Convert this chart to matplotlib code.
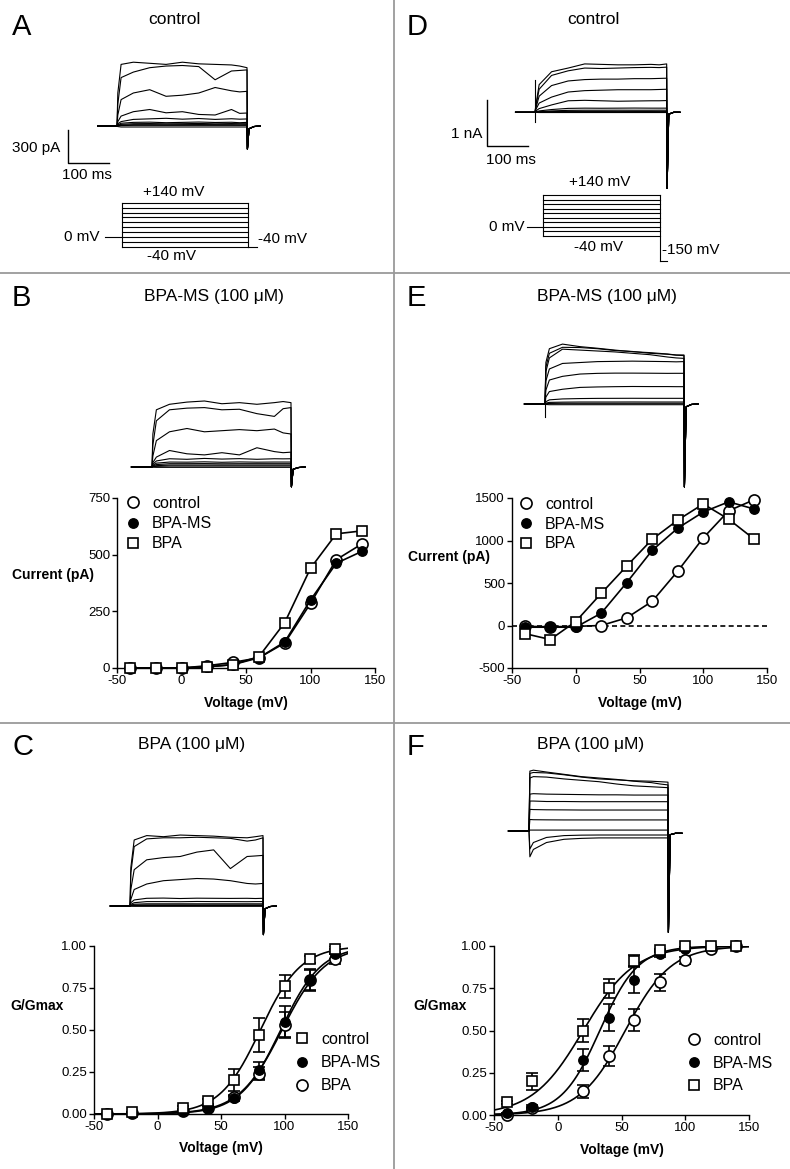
import numpy as np
import matplotlib
matplotlib.use("Agg")
import matplotlib.pyplot as plt
from matplotlib.lines import Line2D

plt.rcParams['font.family'] = ['Liberation Sans', 'DejaVu Sans']
plt.rcParams['axes.unicode_minus'] = False

W, H = 790, 1169

# ---------------- data ----------------
# I-V relations (panels B and E), test potential in mV
volts = [-40, -20, 0, 20, 40, 60, 80, 100, 120, 140]
b_control = [0, 0, 0, 10, 25, 45, 110, 285, 478, 548]
b_bpams = [0, 0, 0, 5, 15, 45, 115, 300, 462, 515]
b_bpa = [0, 0, 0, 5, 15, 50, 200, 440, 592, 605]

e_control = [-10, -15, -10, 0, 90, 285, 640, 1030, 1350, 1480]
e_bpams = [-20, -20, -20, 145, 505, 885, 1145, 1335, 1455, 1370]
e_bpa = [-95, -165, 47, 378, 700, 1015, 1240, 1430, 1250, 1015]

# G/Gmax (panels C and F), no point at 0 mV
g_volts = [-40, -20, 20, 40, 60, 80, 100, 120, 140]
c_control = [0.0, 0.01, 0.037, 0.075, 0.20, 0.47, 0.76, 0.92, 0.98]
c_control_err = [0.0, 0.0, 0.01, 0.015, 0.065, 0.10, 0.07, 0.02, 0.02]
c_bpams = [0.0, 0.005, 0.02, 0.035, 0.095, 0.26, 0.55, 0.80, 0.95]
c_bpams_err = [0.0, 0.0, 0.005, 0.01, 0.015, 0.05, 0.09, 0.065, 0.03]
c_bpa = [0.0, 0.005, 0.02, 0.035, 0.10, 0.24, 0.53, 0.80, 0.92]
c_bpa_err = [0.0, 0.0, 0.005, 0.01, 0.015, 0.04, 0.08, 0.06, 0.03]

f_control = [0.0, 0.04, 0.14, 0.35, 0.56, 0.785, 0.915, 0.98, 1.0]
f_control_err = [0.0, 0.01, 0.04, 0.06, 0.065, 0.05, 0.02, 0.01, 0.0]
f_bpams = [0.01, 0.05, 0.325, 0.575, 0.80, 0.955, 0.985, 1.0, 1.0]
f_bpams_err = [0.0, 0.01, 0.065, 0.08, 0.08, 0.02, 0.01, 0.0, 0.0]
f_bpa = [0.075, 0.20, 0.50, 0.75, 0.91, 0.975, 1.0, 1.0, 1.0]
f_bpa_err = [0.01, 0.05, 0.07, 0.055, 0.035, 0.01, 0.0, 0.0, 0.0]

# Boltzmann fit parameters (V1/2 in mV, slope k in mV)
c_fit_control = (81, 16)
c_fit_bpams = (97, 16)
c_fit_bpa = (98, 17)
f_fit_control = (53, 18)
f_fit_bpams = (33, 15)
f_fit_bpa = (20, 20)

# current traces: samples (ms) during the step, one row per test potential
trace_t = [0, 2, 10, 40, 80, 120, 160, 200, 240, 280, 300, 318]
pre_t = -47
tail_t = [319, 323, 335, 350]

a_traces = [
    [0, 300, 560, 580, 570, 560, 580, 565, 560, 555, 545, 530],
    [0, 200, 440, 490, 530, 545, 550, 540, 420, 500, 505, 510],
    [0, 100, 240, 300, 330, 270, 280, 300, 350, 320, 310, 315],
    [0, 40, 90, 130, 150, 120, 130, 105, 100, 150, 115, 118],
    [0, 20, 40, 60, 65, 70, 62, 68, 60, 66, 62, 64],
    [0, 10, 25, 33, 35, 30, 33, 36, 32, 34, 30, 33],
    [0, 5, 15, 21, 22, 20, 21, 23, 20, 22, 21, 21],
    [0, 3, 8, 12, 12, 11, 12, 13, 12, 12, 11, 12],
    [0, 2, 4, 6, 6, 6, 6, 6, 6, 6, 6, 6],
    [0, -5, -9, -9, -9, -9, -9, -9, -9, -9, -9, -9],
]
a_tail = [-210, -25, -5, 0]

b_traces = [
    [0, 300, 520, 570, 590, 600, 575, 585, 570, 585, 595, 585],
    [0, 200, 420, 520, 535, 540, 520, 525, 485, 460, 530, 540],
    [0, 100, 240, 320, 350, 320, 330, 340, 330, 345, 310, 300],
    [0, 40, 90, 150, 120, 110, 130, 110, 175, 140, 130, 135],
    [0, 25, 55, 75, 70, 78, 72, 76, 70, 75, 74, 75],
    [0, 15, 35, 45, 44, 47, 43, 46, 44, 45, 45, 45],
    [0, 10, 22, 30, 30, 31, 29, 30, 30, 30, 30, 30],
    [0, 5, 12, 18, 18, 18, 18, 18, 18, 18, 18, 18],
    [0, 3, 6, 9, 9, 9, 9, 9, 9, 9, 9, 9],
    [0, -2, -3, -3, -3, -3, -3, -3, -3, -3, -3, -3],
]
b_tail = [-180, -20, -5, 0]

c_traces = [
    [0, 350, 600, 640, 630, 645, 640, 635, 625, 620, 630, 640],
    [0, 300, 540, 610, 620, 620, 625, 620, 615, 590, 600, 620],
    [0, 150, 330, 420, 440, 450, 490, 510, 340, 450, 455, 460],
    [0, 60, 150, 200, 230, 240, 250, 245, 230, 205, 200, 205],
    [0, 30, 55, 70, 72, 68, 71, 70, 69, 70, 68, 70],
    [0, 15, 30, 40, 40, 39, 41, 40, 40, 39, 40, 40],
    [0, 8, 16, 20, 20, 20, 20, 20, 20, 20, 20, 20],
    [0, 4, 8, 10, 10, 10, 10, 10, 10, 10, 10, 10],
    [0, 2, 4, 5, 5, 5, 5, 5, 5, 5, 5, 5],
    [0, -2, -3, -3, -3, -3, -3, -3, -3, -3, -3, -3],
]
c_tail = [-260, -25, -5, 0]

d_traces = [
    [0, 150, 600, 880, 960, 1050, 1040, 1030, 1030, 1040, 1030, 1050],
    [0, 120, 500, 800, 900, 960, 950, 960, 970, 975, 970, 980],
    [0, 90, 350, 580, 680, 710, 720, 720, 730, 730, 735, 740],
    [0, 60, 200, 330, 440, 470, 480, 490, 490, 490, 495, 500],
    [0, 30, 80, 160, 250, 260, 250, 240, 245, 250, 250, 255],
    [0, 10, 30, 60, 85, 90, 88, 90, 92, 90, 90, 90],
    [0, 5, 15, 30, 42, 45, 45, 46, 45, 45, 46, 45],
    [0, 2, 8, 15, 20, 20, 20, 21, 20, 20, 21, 20],
    [0, 1, 3, 6, 8, 8, 8, 8, 8, 8, 8, 8],
    [0, -2, -5, -5, -5, -5, -5, -5, -5, -5, -5, -5],
]
d_tail = [-1650, -40, 0, 0]
d_cap = [700, -200]

e_traces = [
    [0, 900, 1200, 1300, 1245, 1210, 1170, 1135, 1115, 1085, 1064, 1064],
    [0, 800, 1100, 1230, 1225, 1200, 1160, 1140, 1100, 1080, 1060, 1050],
    [0, 700, 1000, 1190, 1170, 1150, 1130, 1100, 1070, 1020, 1000, 990],
    [0, 500, 760, 880, 900, 920, 925, 930, 925, 920, 915, 920],
    [0, 300, 520, 600, 650, 665, 670, 670, 668, 665, 666, 666],
    [0, 150, 270, 320, 360, 370, 376, 380, 378, 378, 376, 376],
    [0, 50, 90, 110, 118, 122, 123, 124, 123, 123, 123, 123],
    [0, 20, 35, 40, 43, 43, 43, 44, 43, 43, 43, 43],
    [0, 8, 12, 15, 15, 15, 15, 15, 15, 15, 15, 15],
    [0, -10, -15, -15, -15, -15, -15, -15, -15, -15, -15, -15],
]
e_tail = [-1800, -60, -10, 0]
e_cap = [0, -280]

f_traces = [
    [0, 1300, 1320, 1280, 1230, 1180, 1150, 1120, 1080, 1050, 1020, 1000],
    [0, 1250, 1270, 1260, 1220, 1170, 1130, 1110, 1090, 1080, 1070, 1060],
    [0, 1150, 1180, 1170, 1130, 1100, 1070, 1020, 980, 960, 950, 940],
    [0, 800, 810, 800, 795, 790, 785, 785, 780, 780, 780, 780],
    [0, 650, 650, 640, 640, 636, 636, 636, 636, 636, 636, 636],
    [0, 470, 465, 460, 458, 455, 455, 455, 455, 455, 455, 455],
    [0, 250, 245, 242, 240, 240, 240, 240, 240, 240, 240, 240],
    [0, 20, 20, 20, 20, 20, 20, 20, 20, 20, 20, 20],
    [0, -390, -250, -140, -100, -90, -87, -87, -87, -87, -87, -87],
    [0, -560, -400, -250, -180, -160, -150, -150, -150, -150, -150, -150],
]
f_tail = [-2200, -80, -50, -50]

# voltage protocol
step_mv = [-40, -20, 0, 20, 40, 60, 80, 100, 120, 140]
step_end = 318
hold_start = -43

fig = plt.figure(figsize=(W / 100, H / 100), dpi=100)


def px_axes(x0, y0, x1, y1):
    return fig.add_axes([x0 / W, 1 - y1 / H, (x1 - x0) / W, (y1 - y0) / H])


def trace_panel(rect, origin, ms_px, unit_px, traces, tail, cap=None):
    x0, y0, x1, y1 = rect
    ox, oy = origin
    ax = px_axes(x0, y0, x1, y1)
    ax.set_xlim((x0 - ox) * ms_px, (x1 - ox) * ms_px)
    ax.set_ylim((oy - y1) * unit_px, (oy - y0) * unit_px)
    ax.axis('off')
    tt = [pre_t] + trace_t + tail_t
    for row in traces:
        ax.plot(tt, [0] + row + tail, color='k', lw=0.8)
    if cap is not None:
        ax.plot([0, 0], cap, color='k', lw=0.8)
    return ax


def protocol_panel(rect, origin, ms_px, mv_px, tail_v, tail_end):
    x0, y0, x1, y1 = rect
    ox, oy = origin
    ax = px_axes(x0, y0, x1, y1)
    ax.set_xlim((x0 - ox) * ms_px, (x1 - ox) * ms_px)
    ax.set_ylim((oy - y1) * mv_px, (oy - y0) * mv_px)
    ax.axis('off')
    kw = dict(color='k', lw=0.8)
    for v in step_mv:
        ax.plot([0, step_end], [v, v], **kw)
    ax.plot([0, 0], [min(step_mv), max(step_mv)], **kw)
    ax.plot([step_end, step_end], [min(tail_v, min(step_mv)), max(step_mv)], **kw)
    ax.plot([hold_start, 0], [0, 0], **kw)
    ax.plot([step_end, tail_end], [tail_v, tail_v], **kw)
    return ax


def data_axes(x0, y0, x1, y1, ylim, yticks, ylabels):
    ax = px_axes(x0, y0, x1, y1)
    ax.set_xlim(-50, 150)
    ax.set_ylim(*ylim)
    for s in ['top', 'right']:
        ax.spines[s].set_visible(False)
    for s in ['left', 'bottom']:
        ax.spines[s].set_linewidth(1.0)
    ax.set_xticks([-50, 0, 50, 100, 150])
    ax.set_yticks(yticks)
    ax.set_yticklabels(ylabels)
    ax.tick_params(direction='out', length=3.5, width=1, labelsize=9.5, pad=1.5)
    ax.set_xlabel('Voltage (mV)', fontsize=10, fontweight='bold')
    ax.xaxis.label.set_va('center')
    return ax


def put_legend(ax, handles, labels, hx, hy, spacing):
    fs = 11.5
    leg = ax.legend(handles, labels, loc='upper left', frameon=False, fontsize=fs,
                    handlelength=0.8, handletextpad=0.8, borderpad=0, borderaxespad=0,
                    labelspacing=(spacing - 16 * 0.96) / 16,
                    bbox_to_anchor=((hx - 6.4) / W, 1 - (hy - 6) / H),
                    bbox_transform=fig.transFigure)
    return leg


def boltz(v, vh, k):
    return 1.0 / (1.0 + np.exp((vh - v) / k))


mk_open_c = dict(marker='o', ms=8, mfc='white', mec='k', mew=1.2)
mk_fill_c = dict(marker='o', ms=6.8, mfc='k', mec='k', mew=1.0)
mk_open_s = dict(marker='s', ms=7.8, mfc='white', mec='k', mew=1.2)

h_ctrl_c = Line2D([], [], ls='none', **mk_open_c)
h_fill = Line2D([], [], ls='none', **mk_fill_c)
h_sq = Line2D([], [], ls='none', **mk_open_s)

# ---------------- panel dividers ----------------
for y in [273, 723]:
    fig.add_artist(Line2D([0, 1], [1 - y / H, 1 - y / H], color='#9a9a9a', lw=1.3,
                          transform=fig.transFigure))
fig.add_artist(Line2D([394 / W, 394 / W], [0, 1], color='#9a9a9a', lw=1.3,
                      transform=fig.transFigure))

# ---------------- letters and titles ----------------
for letter, x, y in [('A', 12, 27), ('B', 12, 298), ('C', 12, 747),
                     ('D', 407, 27), ('E', 407, 298), ('F', 407, 747)]:
    fig.text(x / W, 1 - y / H, letter, fontsize=21, ha='left', va='center')
for txt, x, y in [('control', 174, 20), ('BPA-MS (100 \u03bcM)', 214, 297),
                  ('BPA (100 \u03bcM)', 192, 745), ('control', 593, 20),
                  ('BPA-MS (100 \u03bcM)', 607, 297), ('BPA (100 \u03bcM)', 591, 745)]:
    fig.text(x / W, 1 - y / H, txt, fontsize=12.5, ha='center', va='center')

# ---------------- A: control traces + protocol ----------------
ax = trace_panel((10, 50, 275, 185), (117, 126), 2.446, 9.09, a_traces, a_tail)
ax.plot([-120, -120, -20], [-36, -336, -336], color='k', lw=1.0)
ax.text(-139, -200, '300 pA', fontsize=11, ha='right', va='center')
ax.text(-73, -445, '100 ms', fontsize=11, ha='center', va='center')

ax = protocol_panel((60, 180, 320, 265), (122, 237), 2.524, 4.09, -40, 340)
ax.text(130, 184, '+140 mV', fontsize=11, ha='center', va='center')
ax.text(-56, 0, '0 mV', fontsize=11, ha='right', va='center')
ax.text(343, -8, '-40 mV', fontsize=11, ha='left', va='center')
ax.text(126, -78, '-40 mV', fontsize=11, ha='center', va='center')

# ---------------- D: control traces + protocol ----------------
ax = trace_panel((440, 50, 695, 200), (535, 112.3), 2.415, 21.7, d_traces, d_tail, d_cap)
ax.plot([-116, -116, -16], [269, -731, -731], color='k', lw=1.0)
ax.text(-126, -471, '1 nA', fontsize=11, ha='right', va='center')
ax.text(-58, -1035, '100 ms', fontsize=11, ha='center', va='center')

ax = protocol_panel((460, 175, 700, 270), (543, 226.9), 2.718, 4.39, -150, 337)
ax.text(155, 197, '+140 mV', fontsize=11, ha='center', va='center')
ax.text(-49, 0, '0 mV', fontsize=11, ha='right', va='center')
ax.text(150, -88, '-40 mV', fontsize=11, ha='center', va='center')
ax.text(323, -102, '-150 mV', fontsize=11, ha='left', va='center')

# ---------------- B ----------------
trace_panel((110, 385, 330, 500), (152, 467), 2.288, 9.09, b_traces, b_tail)
ax = data_axes(117, 498, 375, 668, (0, 750), [0, 250, 500, 750], ['0', '250', '500', '750'])
ax.xaxis.set_label_coords(0.5, (668 - 703) / 170)
ax.plot(volts, b_control, '-', color='k', lw=1.2, clip_on=False, zorder=3, **mk_open_c)
ax.plot(volts, b_bpams, '-', color='k', lw=1.2, clip_on=False, zorder=4, **mk_fill_c)
ax.plot(volts, b_bpa, '-', color='k', lw=1.2, clip_on=False, zorder=5, **mk_open_s)
put_legend(ax, [h_ctrl_c, h_fill, h_sq], ['control', 'BPA-MS', 'BPA'], 133, 502, 20.5)
fig.text(12 / W, 1 - 575 / H, 'Current (pA)', fontsize=10, fontweight='bold',
         ha='left', va='center')

# ---------------- E ----------------
trace_panel((495, 325, 725, 495), (545, 404), 2.288, 21.7, e_traces, e_tail, e_cap)
ax = data_axes(512, 498, 767, 668, (-500, 1500), [-500, 0, 500, 1000, 1500],
               ['-500', '0', '500', '1000', '1500'])
ax.xaxis.set_label_coords(0.5, (668 - 703) / 170)
ax.axhline(0, color='k', lw=1.2, ls=(0, (3, 2)), zorder=1)
ax.plot(volts, e_control, '-', color='k', lw=1.2, clip_on=False, zorder=3, **mk_open_c)
ax.plot(volts, e_bpams, '-', color='k', lw=1.2, clip_on=False, zorder=4, **mk_fill_c)
ax.plot(volts, e_bpa, '-', color='k', lw=1.2, clip_on=False, zorder=5, **mk_open_s)
put_legend(ax, [h_ctrl_c, h_fill, h_sq], ['control', 'BPA-MS', 'BPA'], 526, 503, 20.0)
fig.text(408 / W, 1 - 557 / H, 'Current (pA)', fontsize=10, fontweight='bold',
         ha='left', va='center')

# ---------------- C ----------------
trace_panel((90, 815, 300, 945), (130, 906), 2.391, 9.09, c_traces, c_tail)
ax = data_axes(94, 946, 348, 1114, (0, 1), [0, 0.25, 0.5, 0.75, 1.0],
               ['0.00', '0.25', '0.50', '0.75', '1.00'])
ax.xaxis.set_label_coords(0.5, (1114 - 1148) / 168)
vfit = np.linspace(-50, 150, 201)
for p in [c_fit_control, c_fit_bpams, c_fit_bpa]:
    ax.plot(vfit, boltz(vfit, *p), color='k', lw=1.2, zorder=2)
eb = dict(fmt='none', ecolor='k', elinewidth=1.2, capsize=4.5, capthick=1.2, zorder=3)
ax.errorbar(g_volts, c_bpa, yerr=c_bpa_err, **eb)
ax.errorbar(g_volts, c_bpams, yerr=c_bpams_err, **eb)
ax.errorbar(g_volts, c_control, yerr=c_control_err, **eb)
ax.plot(g_volts, c_bpa, ls='none', clip_on=False, zorder=4, **mk_open_c)
ax.plot(g_volts, c_bpams, ls='none', clip_on=False, zorder=5, **mk_fill_c)
ax.plot(g_volts, c_control, ls='none', clip_on=False, zorder=6, **mk_open_s)
put_legend(ax, [h_sq, h_fill, h_ctrl_c], ['control', 'BPA-MS', 'BPA'], 302, 1038, 23.5)
fig.text(10 / W, 1 - 1006 / H, 'G/Gmax', fontsize=10, fontweight='bold',
         ha='left', va='center')

# ---------------- F ----------------
trace_panel((485, 745, 705, 945), (529, 831), 2.288, 21.7, f_traces, f_tail)
ax = data_axes(494, 946, 749, 1115, (0, 1), [0, 0.25, 0.5, 0.75, 1.0],
               ['0.00', '0.25', '0.50', '0.75', '1.00'])
ax.xaxis.set_label_coords(0.5, (1115 - 1150) / 169)
for p in [f_fit_control, f_fit_bpams, f_fit_bpa]:
    ax.plot(vfit, boltz(vfit, *p), color='k', lw=1.2, zorder=2)
ax.errorbar(g_volts, f_control, yerr=f_control_err, **eb)
ax.errorbar(g_volts, f_bpams, yerr=f_bpams_err, **eb)
ax.errorbar(g_volts, f_bpa, yerr=f_bpa_err, **eb)
ax.plot(g_volts, f_control, ls='none', clip_on=False, zorder=4, **mk_open_c)
ax.plot(g_volts, f_bpams, ls='none', clip_on=False, zorder=5, **mk_fill_c)
ax.plot(g_volts, f_bpa, ls='none', clip_on=False, zorder=6, **mk_open_s)
put_legend(ax, [h_ctrl_c, h_fill, h_sq], ['control', 'BPA-MS', 'BPA'], 694, 1039, 23.0)
fig.text(413 / W, 1 - 1006 / H, 'G/Gmax', fontsize=10, fontweight='bold',
         ha='left', va='center')

fig.savefig('out.png', dpi=100)
